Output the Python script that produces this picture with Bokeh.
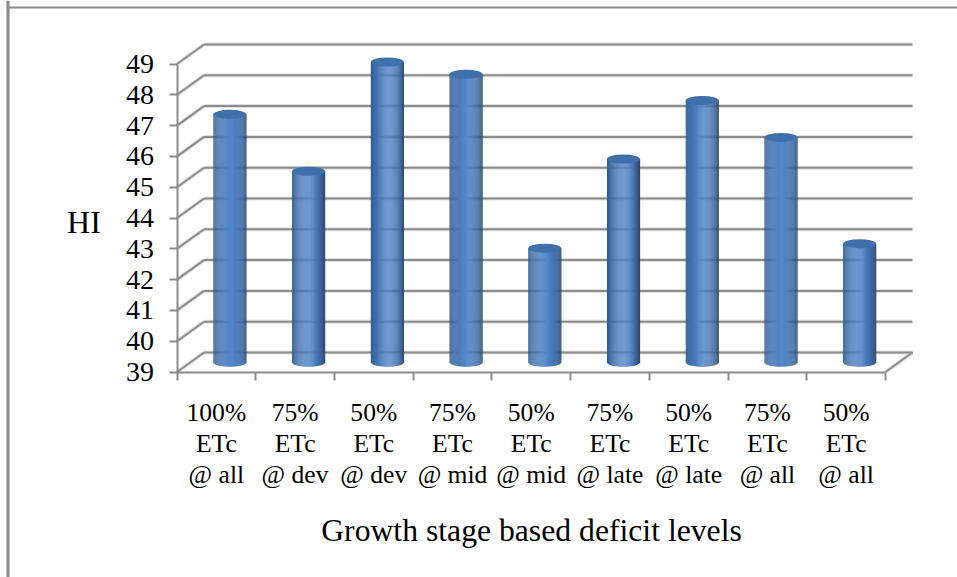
from bokeh.plotting import figure
from bokeh.models import LinearAxis, FixedTicker, Range1d, Span
from bokeh.core.properties import value
from bokeh.embed import file_html
from bokeh.resources import INLINE

categories = ["100%\nETc\n@ all", "75%\nETc\n@ dev", "50%\nETc\n@ dev", "75%\nETc\n@ mid",
              "50%\nETc\n@ mid", "75%\nETc\n@ late", "50%\nETc\n@ late", "75%\nETc\n@ all", "50%\nETc\n@ all"]
hi_values = [47.05, 45.2, 48.75, 48.35, 42.7, 45.6, 47.5, 46.3, 42.85]
y_ticks = list(range(39, 50))

W, H = 957, 577
# Pixel anchors of the front axes, from which the data ranges follow
LEFT, RIGHT, BASE, TOP = 176.5, 885.0, 371.5, 63.5
sx = (RIGHT - LEFT) / 9
sy = (BASE - TOP) / 10
x0, x1 = -LEFT / sx, (W - LEFT) / sx
y0, y1 = 39 - (H - BASE) / sy, 39 + BASE / sy
DX, DY = 27 / sx, 19.5 / sy          # depth of the pseudo-3D floor

FONT = "Liberation Serif"
GRID = "#8c8c8c"

p = figure(width=W, height=H, output_backend="svg", toolbar_location=None,
           x_range=Range1d(x0, x1), y_range=Range1d(y0, y1),
           min_border=0, min_border_left=0, min_border_right=0,
           min_border_top=0, min_border_bottom=0, outline_line_color=None,
           x_axis_location=None, y_axis_location=None)
p.grid.visible = False
p.background_fill_color = "white"

# Chart frame: only the left and top edges show
p.add_layout(Span(location=x0 + 7.5 / sx, dimension="height", line_color="#8a8a8a", line_width=3))
p.segment([x0 + 6 / sx], [y1 - 7 / sy], [x1], [y1 - 7 / sy], line_color="#8a8a8a", line_width=2)

# Back wall and side wall gridlines, with a soft shadow beneath each
for color, width, alpha in [("#c8c8c8", 4, 0.55), (GRID, 2, 1.0)]:
    p.segment([DX] * len(y_ticks), [v + DY for v in y_ticks],
              [9 + DX] * len(y_ticks), [v + DY for v in y_ticks],
              line_color=color, line_width=width, line_alpha=alpha)
    p.segment([0] * len(y_ticks), y_ticks, [DX] * len(y_ticks), [v + DY for v in y_ticks],
              line_color=color, line_width=width, line_alpha=alpha)
    p.segment([9], [39], [9 + DX], [39 + DY], line_color=color, line_width=width, line_alpha=alpha)

# Cylinders: vertical strips give the horizontal shading
STOPS = [(0.0, (48, 90, 142)), (0.12, (62, 108, 166)), (0.35, (78, 128, 190)), (0.55, (84, 136, 202)),
         (0.75, (70, 118, 178)), (0.90, (54, 96, 150)), (1.0, (38, 68, 106))]


def shade(t):
    for (a, ca), (b, cb) in zip(STOPS, STOPS[1:]):
        if t <= b:
            f = (t - a) / (b - a)
            return "#%02x%02x%02x" % tuple(round(u + (w - u) * f) for u, w in zip(ca, cb))
    return "#26446a"


NSTRIP = 32
BAR_W = 33 / sx
RY = 4.5 / sy
left, right, top, bottom, colors = [], [], [], [], []
for i, v in enumerate(hi_values):
    cx = i + 0.5 + DX / 2
    for k in range(NSTRIP):
        a, b = k / NSTRIP, (k + 1) / NSTRIP
        mid = (a + b) / 2 * 2 - 1
        left.append(cx - BAR_W / 2 + a * BAR_W)
        right.append(cx - BAR_W / 2 + b * BAR_W + 0.002)
        top.append(v + DY / 2)
        bottom.append(39 + DY / 2 - RY * (1 - mid * mid) ** 0.5)
        colors.append(shade((a + b) / 2))
p.quad(left=left, right=right, top=top, bottom=bottom, fill_color=colors, line_color=None)

cap_x = [i + 0.5 + DX / 2 for i in range(len(hi_values))]
cap_y = [v + DY / 2 for v in hi_values]
p.ellipse(x=cap_x, y=cap_y, width=BAR_W, height=2 * RY, fill_color="#3f70aa", line_color=None)

# Axes pinned to the front edge of the floor
yaxis = LinearAxis(fixed_location=0, bounds=(39, 49), ticker=FixedTicker(ticks=y_ticks),
                   axis_line_color=GRID, axis_line_width=2,
                   major_tick_line_color=GRID, major_tick_line_width=2,
                   major_tick_out=8, major_tick_in=0, minor_tick_out=0, minor_tick_in=0,
                   major_label_standoff=15,
                   major_label_text_font=FONT, major_label_text_font_size="28px",
                   major_label_text_color="black")
p.add_layout(yaxis, "left")

xaxis = LinearAxis(fixed_location=39, bounds=(0, 9),
                   ticker=FixedTicker(ticks=[i + 0.5 for i in range(9)], minor_ticks=list(range(10))),
                   major_label_overrides={i + 0.5: c for i, c in enumerate(categories)},
                   axis_line_color=GRID, axis_line_width=2,
                   major_tick_out=0, major_tick_in=0, major_tick_line_color=None,
                   minor_tick_out=8, minor_tick_in=0, minor_tick_line_color=GRID, minor_tick_line_width=2,
                   major_label_standoff=18,
                   major_label_text_font=FONT, major_label_text_font_size="25.6px",
                   major_label_text_color="black", major_label_text_line_height=1.07)
p.add_layout(xaxis, "below")

# Axis titles
p.text(x=[x0 + 83.5 / sx], y=[y1 - 221 / sy], text=["HI"], text_align="center", text_baseline="middle",
       text_font=value(FONT), text_font_size="32px", text_color="black")
p.text(x=[x0 + 531 / sx], y=[y1 - 530 / sy], text=["Growth stage based deficit levels"],
       text_align="center", text_baseline="middle",
       text_font=value(FONT), text_font_size="31.7px", text_color="black")

open("out.html", "w").write(file_html(p, INLINE))
